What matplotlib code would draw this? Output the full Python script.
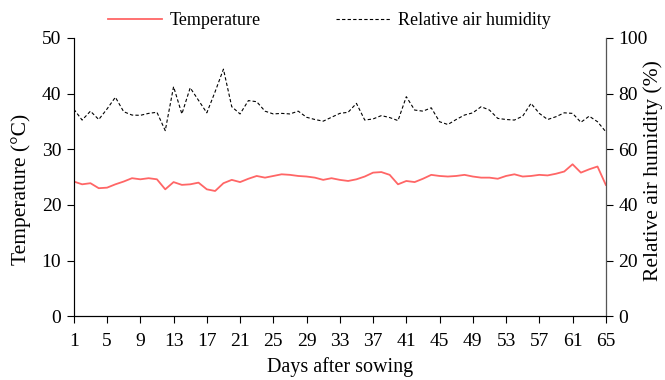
import matplotlib.pyplot as plt

days = list(range(1, 66))

temperature = [24.2, 23.7, 23.9, 23.0, 23.1, 23.7, 24.2, 24.8, 24.6, 24.8,
               24.6, 22.8, 24.1, 23.6, 23.7, 24.0, 22.8, 22.5, 23.9, 24.5,
               24.1, 24.7, 25.2, 24.9, 25.2, 25.5, 25.4, 25.2, 25.1, 24.9,
               24.5, 24.8, 24.5, 24.3, 24.6, 25.1, 25.8, 25.9, 25.4, 23.7,
               24.3, 24.1, 24.7, 25.4, 25.2, 25.1, 25.2, 25.4, 25.1, 24.9,
               24.9, 24.7, 25.2, 25.5, 25.1, 25.2, 25.4, 25.3, 25.6, 26.0,
               27.3, 25.8, 26.4, 26.9, 23.6]

humidity = [74.4, 70.5, 73.7, 70.7, 74.5, 78.7, 73.5, 72.3, 72.2, 72.9,
            73.3, 66.7, 82.5, 72.7, 82.1, 77.6, 73.1, 80.7, 88.8, 75.3,
            72.7, 77.5, 77.1, 73.7, 72.7, 72.9, 72.7, 73.7, 71.5, 70.7,
            70.1, 71.5, 72.9, 73.3, 76.5, 70.5, 70.9, 72.1, 71.4, 70.3,
            78.9, 74.1, 73.7, 74.9, 69.9, 68.9, 70.7, 72.3, 73.1, 75.3,
            74.1, 71.1, 70.7, 70.5, 71.9, 76.5, 72.9, 70.7, 71.7, 73.1,
            72.9, 69.7, 71.9, 69.9, 66.3]

xticks = list(range(1, 66, 4))

plt.rcParams['font.family'] = ['Liberation Serif', 'DejaVu Serif']
plt.rcParams['font.size'] = 13

fig = plt.figure(figsize=(6.65, 3.8), dpi=100)
ax = fig.add_axes([0.111, 0.168, 0.800, 0.732])
ax2 = ax.twinx()

l1, = ax.plot(days, temperature, color='#ff6666', lw=1.3, label='Temperature')
l2, = ax2.plot(days, humidity, color='black', lw=0.8, ls=(0, (3, 2)),
               label='Relative air humidity')

ax.set_xlim(1, 65)
ax.set_ylim(0, 50)
ax2.set_ylim(0, 100)
ax.set_xticks(xticks)
ax.set_yticks(range(0, 51, 10))
ax2.set_yticks(range(0, 101, 20))

for a in (ax, ax2):
    a.spines['top'].set_visible(False)
    a.tick_params(direction='out', length=5, width=0.8, colors='black',
                  labelsize=14, pad=4)
ax.spines['left'].set_color('#555555')
ax2.spines['right'].set_color('#555555')
ax.tick_params(axis='x', pad=7)

# labels sit a bit off-centre in the original, place them by hand
ax.set_ylabel('Temperature (°C)', fontsize=15.5)
ax.yaxis.set_label_coords(-0.08, 0.455)
ax2.set_ylabel('Relative air humidity (%)', fontsize=15.5)
ax2.yaxis.set_label_coords(1.07, 0.525)
ax.set_xlabel('Days after sowing', fontsize=14.5, labelpad=5)

fig.legend(handles=[l1, l2], loc='upper center', ncol=2, frameon=False,
           bbox_to_anchor=(0.495, 1.01), fontsize=13, handlelength=3,
           columnspacing=4.2, handletextpad=0.4)

fig.savefig('out.png', dpi=100)
